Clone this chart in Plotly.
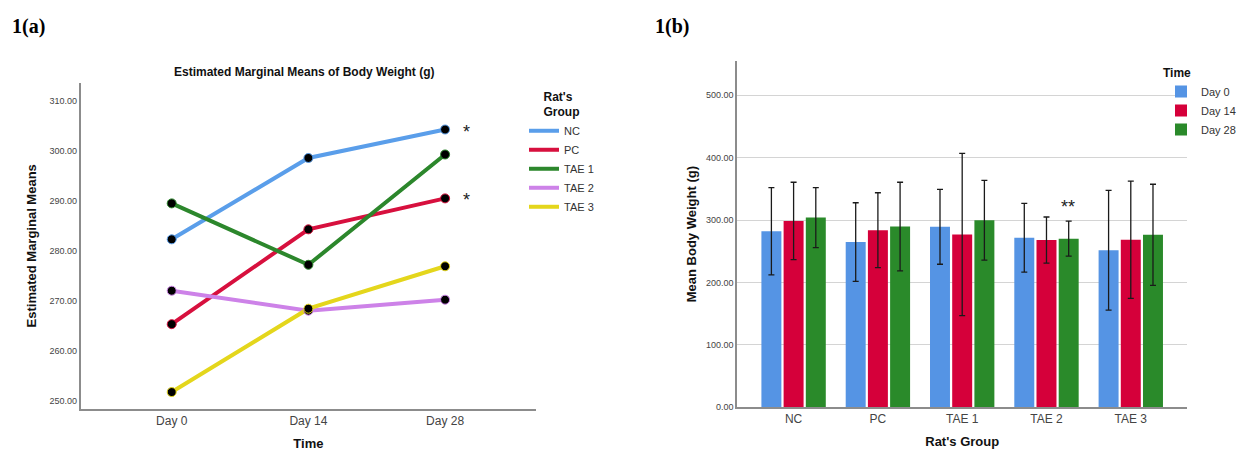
import plotly.graph_objects as go

# ---------------- data ----------------
days = ["Day 0", "Day 14", "Day 28"]
groups = ["NC", "PC", "TAE 1", "TAE 2", "TAE 3"]

# Panel 1(a): estimated marginal means per group across time
emm_nc = [282.3, 298.6, 304.3]
emm_pc = [265.3, 284.3, 290.5]
emm_tae1 = [289.5, 277.2, 299.3]
emm_tae2 = [272.0, 268.0, 270.2]
emm_tae3 = [251.7, 268.4, 276.9]

# Panel 1(b): mean body weight per group, by day, with error bars
mean_day0 = [282.2, 264.8, 289.2, 271.7, 251.6]
mean_day14 = [298.7, 283.8, 277.0, 268.0, 268.5]
mean_day28 = [304.0, 289.7, 299.7, 270.2, 276.5]
err_day0 = [70, 63, 60, 55, 96]
err_day14 = [62, 60, 130, 37, 94]
err_day28 = [48, 71, 64, 28, 81]

left_yticks = [250, 260, 270, 280, 290, 300, 310]
right_yticks = [0, 100, 200, 300, 400, 500]

line_colors = ["#5A9EEA", "#D7103E", "#2C872C", "#CD82E8", "#E4D61C"]
bar_colors = ["#5594E4", "#D5003A", "#2A8A2A"]

FONT = "Liberation Sans, Arial, sans-serif"
AXIS_GREY = "#8c8c8c"

fig = go.Figure()

# ---------- left panel: line chart ----------
emm_series = [emm_nc, emm_pc, emm_tae1, emm_tae2, emm_tae3]
for name, vals, col in zip(groups, emm_series, line_colors):
    fig.add_trace(go.Scatter(
        x=days, y=vals, name=name, mode="lines", legendgroup=name,
        line=dict(color=col, width=4),
        xaxis="x", yaxis="y", legend="legend",
    ))
for name, vals, col in zip(groups, emm_series, line_colors):
    fig.add_trace(go.Scatter(
        x=days, y=vals, name=name, mode="markers", legendgroup=name, showlegend=False,
        marker=dict(color="black", size=9, line=dict(color=col, width=1)),
        xaxis="x", yaxis="y", legend="legend",
    ))

# ---------- right panel: grouped bars ----------
bar_means = [mean_day0, mean_day14, mean_day28]
bar_errs = [err_day0, err_day14, err_day28]
for day, vals, errs, col in zip(days, bar_means, bar_errs, bar_colors):
    fig.add_trace(go.Bar(
        x=groups, y=vals, name=day,
        marker=dict(color=col, line=dict(width=0)),
        error_y=dict(type="data", array=errs, visible=True,
                     color="#1a1a1a", thickness=1.3, width=3),
        xaxis="x2", yaxis="y2", legend="legend2",
    ))

W, H = 1241, 461
def px_x(p):
    return p / W
def px_y(p):
    return 1 - p / H

fig.update_layout(
    width=W, height=H,
    margin=dict(l=0, r=0, t=0, b=0),
    paper_bgcolor="white", plot_bgcolor="white",
    font=dict(family=FONT, color="#222"),
    barmode="group", bargap=0.21, bargroupgap=0.1,
    showlegend=True,
    xaxis=dict(
        domain=[px_x(81), px_x(539.3)], anchor="y",
        range=[-0.667, 2.667], showline=True, linecolor=AXIS_GREY, linewidth=1.5,
        showgrid=False, zeroline=False, ticks="",
        tickfont=dict(size=12, color="#444"),
        title=dict(text="<b>Time</b>", font=dict(size=13, color="#111"), standoff=12),
    ),
    yaxis=dict(
        domain=[px_y(413), px_y(84)], anchor="x",
        range=[248.4, 313.6], tickvals=left_yticks, tickformat=".2f",
        showline=True, linecolor=AXIS_GREY, linewidth=1.5,
        showgrid=False, zeroline=False, ticks="",
        tickfont=dict(size=9, color="#444"),
        title=dict(text="<b>Estimated Marginal Means</b>", font=dict(size=13, color="#111"), standoff=10),
    ),
    xaxis2=dict(
        domain=[px_x(741.3), px_x(1194)], anchor="y2",
        range=[-0.67, 4.67], showline=True, linecolor=AXIS_GREY, linewidth=1.5,
        showgrid=False, zeroline=False, ticks="",
        tickfont=dict(size=12, color="#444"),
        title=dict(text="<b>Rat's Group</b>", font=dict(size=13, color="#111"), standoff=12),
    ),
    yaxis2=dict(
        domain=[px_y(411.7), px_y(61.7)], anchor="x2",
        range=[0, 555], tickvals=right_yticks, tickformat=".2f",
        showline=True, linecolor=AXIS_GREY, linewidth=1.5,
        showgrid=True, gridcolor="#d4d4d4", gridwidth=1, zeroline=False, ticks="",
        tickfont=dict(size=9, color="#444"),
        title=dict(text="<b>Mean Body Weight (g)</b>", font=dict(size=13, color="#111"), standoff=6),
    ),
    legend=dict(
        x=px_x(527), y=px_y(86), xanchor="left", yanchor="top",
        title=dict(text="<b>Rat's<br>Group</b>", side="top center", font=dict(size=12, color="#111")),
        font=dict(size=11, color="#333"), bgcolor="rgba(0,0,0,0)",
        itemwidth=30, tracegroupgap=0,
    ),
    legend2=dict(
        x=px_x(1168), y=px_y(62), xanchor="left", yanchor="top",
        title=dict(text="<b>Time</b>", font=dict(size=12, color="#111")),
        font=dict(size=11, color="#333"), bgcolor="rgba(0,0,0,0)",
        itemwidth=30, tracegroupgap=0,
    ),
)

annotations = [
    dict(text="<b>1(a)</b>", x=px_x(10), y=px_y(27), xref="paper", yref="paper",
         xanchor="left", yanchor="middle", showarrow=False,
         font=dict(family="Liberation Serif, Times New Roman, serif", size=20, color="black")),
    dict(text="<b>1(b)</b>", x=px_x(657), y=px_y(27), xref="paper", yref="paper",
         xanchor="left", yanchor="middle", showarrow=False,
         font=dict(family="Liberation Serif, Times New Roman, serif", size=20, color="black")),
    dict(text="<b>Estimated Marginal Means of Body Weight (g)</b>", x=px_x(306), y=px_y(73),
         xref="paper", yref="paper", xanchor="center", yanchor="middle", showarrow=False,
         font=dict(size=12, color="#111")),
    # significance markers, anchored to the data
    dict(text="*", x=days[2], y=emm_nc[2], xref="x", yref="y", xshift=21, yshift=-2,
         showarrow=False, font=dict(size=18, color="#222")),
    dict(text="*", x=days[2], y=emm_pc[2], xref="x", yref="y", xshift=21, yshift=-2,
         showarrow=False, font=dict(size=18, color="#222")),
    dict(text="**", x=groups[3], y=mean_day28[3] + err_day28[3], xref="x2", yref="y2",
         xshift=22, yshift=14, showarrow=False, font=dict(size=18, color="#222")),
]
fig.update_layout(annotations=annotations)

fig.write_html("out.html")
